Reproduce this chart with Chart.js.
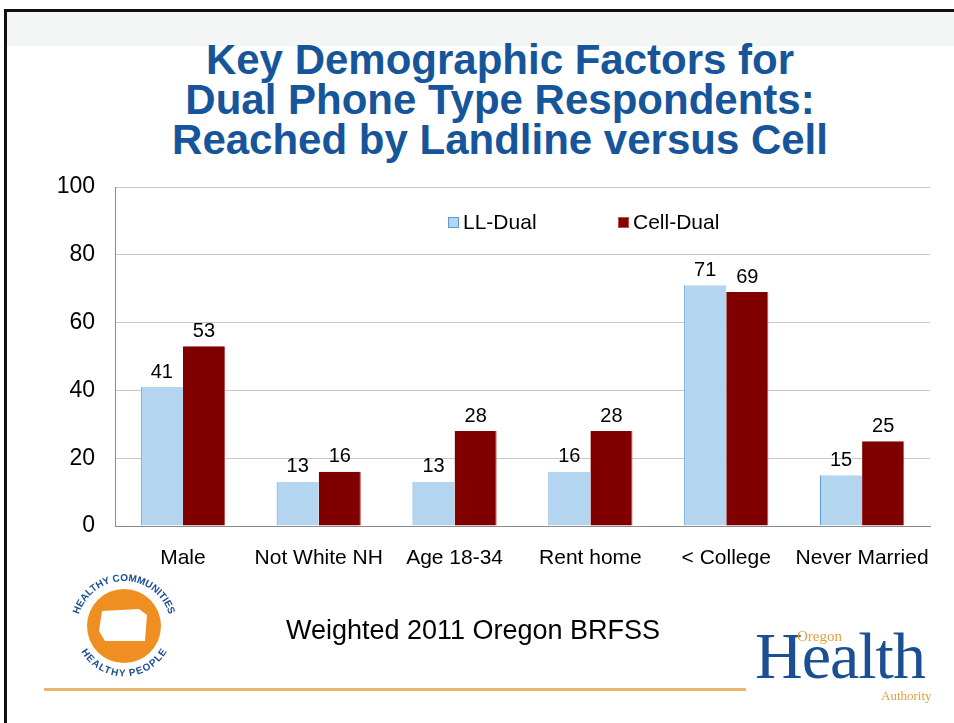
<!DOCTYPE html>
<html>
<head>
<meta charset="utf-8">
<script src="https://cdn.jsdelivr.net/npm/chart.js@4.4.0/dist/chart.umd.min.js"></script>
<style>
  html,body{margin:0;padding:0;background:#fff;}
  #wrap{position:relative;width:954px;height:723px;overflow:hidden;background:#fff;}
  #frame{position:absolute;left:4px;top:9px;width:960px;height:720px;border:3px solid #111;box-sizing:border-box;}
  #topband{position:absolute;left:7px;top:12px;width:947px;height:34px;background:#f4f5f5;}
  #title{position:absolute;left:40px;top:40px;width:920px;text-align:center;font-family:"Liberation Sans",Arial,sans-serif;font-weight:bold;font-size:42px;line-height:40px;color:#17559a;}
  #c{position:absolute;left:0;top:0;}
  #foot{position:absolute;left:0;width:946px;top:615px;text-align:center;font-family:"Liberation Sans",Arial,sans-serif;font-size:27px;color:#000;}
  #gold{position:absolute;left:44px;top:688px;width:702px;height:3px;background:#e8b66a;}
  #logo1{position:absolute;left:68px;top:570px;}
  #oha{position:absolute;left:755px;top:624px;width:200px;height:90px;font-family:"Liberation Serif","DejaVu Serif",serif;}
  #oha .h{position:absolute;left:0;top:-6px;font-size:66px;color:#1b4f93;letter-spacing:-1px;}
  #oha .o{position:absolute;left:42px;top:4px;font-size:15px;color:#e0a040;}
  #oha .a{position:absolute;left:126px;top:64px;font-size:13px;color:#e0a040;}
</style>
</head>
<body>
<div id="wrap">
  <div id="topband"></div>
  <div id="frame"></div>
  <div id="title">Key Demographic Factors for<br>Dual Phone Type Respondents:<br>Reached by Landline versus Cell</div>
  <canvas id="c" width="954" height="723"></canvas>
  <div id="foot">Weighted 2011 Oregon BRFSS</div>
  <div id="gold"></div>
  <svg id="logo1" width="112" height="112" viewBox="0 0 112 112">
    <defs>
      <path id="arcTop" d="M 9 58 A 47 47 0 0 1 103 58"/>
      <path id="arcBot" d="M 16 70 A 42 42 0 0 0 96 70"/>
    </defs>
    <circle cx="56" cy="56" r="37" fill="#ef8f22"/>
    <path d="M 34 41 L 71 39 L 79 45 L 77 71 L 37 71 L 31 61 Z" fill="#fff"/>
    <text font-family="Liberation Sans, Arial" font-weight="bold" font-size="10" fill="#1b4f93"><textPath href="#arcTop" startOffset="50%" text-anchor="middle">HEALTHY COMMUNITIES</textPath></text>
    <text font-family="Liberation Sans, Arial" font-weight="bold" font-size="10" fill="#1b4f93"><textPath href="#arcBot" startOffset="50%" text-anchor="middle" dominant-baseline="hanging">HEALTHY PEOPLE</textPath></text>
  </svg>
  <div id="oha"><span class="h">Health</span><span class="o">Oregon</span><span class="a">Authority</span></div>
</div>
<script>
const categories = ["Male", "Not White NH", "Age 18-34", "Rent home", "< College", "Never Married"];
const llDual = [41, 13, 13, 16, 71, 15];
const cellDual = [53, 16, 28, 28, 69, 25];
const seriesNames = ["LL-Dual", "Cell-Dual"];
const yTicks = [0, 20, 40, 60, 80, 100];

const FONT = '"Liberation Sans", Arial, sans-serif';

const labelPlugin = {
  id: 'valueLabels',
  afterDatasetsDraw(chart) {
    const ctx = chart.ctx;
    ctx.save();
    ctx.font = '20px ' + FONT;
    ctx.fillStyle = '#000';
    ctx.textAlign = 'center';
    ctx.textBaseline = 'bottom';
    chart.data.datasets.forEach((ds, i) => {
      const meta = chart.getDatasetMeta(i);
      meta.data.forEach((bar, j) => {
        ctx.fillText(String(ds.data[j]), bar.x, bar.y - 5);
      });
    });
    ctx.restore();
  }
};

const legendPlugin = {
  id: 'customLegend',
  afterDraw(chart) {
    const ctx = chart.ctx;
    ctx.save();
    ctx.font = '21px ' + FONT;
    ctx.textBaseline = 'middle';
    ctx.textAlign = 'left';
    const xs = [448, 618];
    const y = 222;
    chart.data.datasets.forEach((ds, i) => {
      const x = xs[i];
      ctx.fillStyle = ds.backgroundColor;
      ctx.fillRect(x, y - 5, 11, 11);
      ctx.strokeStyle = ds.borderColor;
      ctx.lineWidth = 1;
      ctx.strokeRect(x + 0.5, y - 4.5, 10, 10);
      ctx.fillStyle = '#000';
      ctx.fillText(ds.label, x + 15, y + 1);
    });
    ctx.restore();
  }
};

new Chart(document.getElementById('c'), {
  type: 'bar',
  data: {
    labels: categories,
    datasets: [
      { label: seriesNames[0], data: llDual, backgroundColor: '#b3d5ef', borderColor: '#5b9bd5', borderWidth: {left:1, right:0, top:0, bottom:0}, categoryPercentage: 0.62, barPercentage: 1.0 },
      { label: seriesNames[1], data: cellDual, backgroundColor: '#800000', borderColor: '#c0504d', borderWidth: {left:0, right:1, top:0, bottom:0}, categoryPercentage: 0.62, barPercentage: 1.0 }
    ]
  },
  options: {
    responsive: false,
    animation: false,
    devicePixelRatio: 1,
    layout: { padding: { left: 50, right: 24, top: 187, bottom: 0 } },
    plugins: { legend: { display: false }, tooltip: { enabled: false } },
    scales: {
      x: {
        grid: { display: false, drawTicks: false },
        border: { color: '#8c8c8c', width: 1 },
        ticks: { color: '#000', font: { family: FONT, size: 21 }, padding: 20, maxRotation: 0, autoSkip: false },
        afterFit(s) { s.height = 197; }
      },
      y: {
        min: 0, max: 100,
        afterBuildTicks(s) { s.ticks = yTicks.map(v => ({ value: v })); },
        grid: { color: '#c8c8c8', drawTicks: false },
        border: { color: '#8c8c8c', width: 1 },
        ticks: { color: '#000', font: { family: FONT, size: 23 }, padding: 20 },
        afterFit(s) { s.width = 65; }
      }
    }
  },
  plugins: [labelPlugin, legendPlugin]
});
</script>
</body>
</html>
